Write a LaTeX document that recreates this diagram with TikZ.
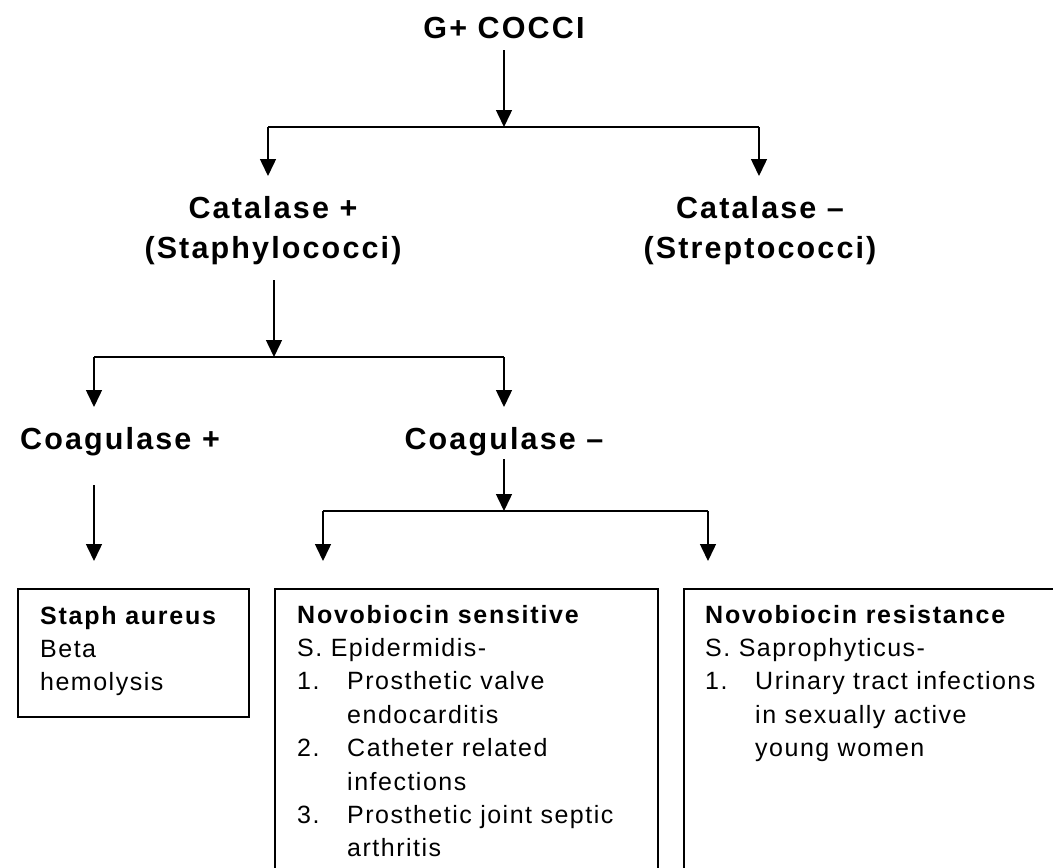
\documentclass[tikz,border=0pt]{standalone}
\usepackage{fontspec}
\setmainfont{Liberation Sans}
\newfontfamily\headfont[LetterSpace=7]{Liberation Sans}
\newfontfamily\bodyfont[LetterSpace=6]{Liberation Sans}
\newfontfamily\titlefont[LetterSpace=7]{Liberation Sans}
\usetikzlibrary{arrows.meta}
\tikzset{
  head/.style={font=\headfont\bfseries\fontsize{30.5}{40}\selectfont, align=center, inner sep=0pt},
  body/.style={font=\bodyfont\fontsize{25}{33.4}\selectfont, align=left, inner sep=0pt, anchor=base west},
  box/.style={draw, line width=1.5pt, inner sep=0pt, anchor=north west},
  link/.style={line width=1.5pt, draw=black},
  arr/.style={link, -{Triangle[width=16pt,length=17pt]}},
}
\newcommand{\itm}[1]{\makebox[50pt][l]{#1}}
\newcommand{\cont}{\hspace*{50pt}}
\newcommand{\boxtitle}[1]{{\titlefont\bfseries #1}}
\begin{document}
\begin{tikzpicture}[x=1pt,y=-1pt]
\useasboundingbox (0,0) rectangle (1053,868);
\clip (0,0) rectangle (1053,868);
% headings (anchor base = baseline of last line)
\node[head, anchor=base] (gc) at (504,38) {G+ COCCI};
\node[head, anchor=base] (catp) at (273,258) {Catalase +\\(Staphylococci)};
\node[head, anchor=base] (catn) at (760,258) {Catalase \textendash\\(Streptococci)};
\node[head, anchor=base] (coagp) at (120,449) {Coagulase +};
\node[head, anchor=base] (coagn) at (504,449) {Coagulase \textendash};
% boxes
\node[box, minimum width=231pt, minimum height=128pt] (b1) at (17,588) {};
\node[box, minimum width=383pt, minimum height=320pt] (b2) at (274,588) {};
\node[box, minimum width=420pt, minimum height=320pt] (b3) at (683,588) {};
\node[body] (t1) at ([xshift=23pt,yshift=-102.8pt]b1.north west)
  {\boxtitle{Staph aureus}\\Beta\\hemolysis};
\node[body] (t2) at ([xshift=23pt,yshift=-268.8pt]b2.north west)
  {\boxtitle{Novobiocin sensitive}\\S. Epidermidis-\\\itm{1.}Prosthetic valve\\\cont endocarditis\\\itm{2.}Catheter related\\\cont infections\\\itm{3.}Prosthetic joint septic\\\cont arthritis};
\node[body] (t3) at ([xshift=22pt,yshift=-168.6pt]b3.north west)
  {\boxtitle{Novobiocin resistance}\\S. Saprophyticus-\\\itm{1.}Urinary tract infections\\\cont in sexually active\\\cont young women};
% junction and end coordinates
\coordinate (s1) at (504,50);
\coordinate (j1) at (504,127);
\coordinate (j1l) at (268,127);
\coordinate (j1r) at (759,127);
\coordinate (e1l) at (268,176);
\coordinate (e1r) at (759,176);
\coordinate (s2) at (274,280);
\coordinate (j2) at (274,357);
\coordinate (j2l) at (94,357);
\coordinate (j2r) at (504,357);
\coordinate (e2l) at (94,407);
\coordinate (e2r) at (504,407);
\coordinate (s3) at (94,485);
\coordinate (e3) at (94,561);
\coordinate (s4) at (504,459);
\coordinate (j4) at (504,511);
\coordinate (j4l) at (323,511);
\coordinate (j4r) at (708,511);
\coordinate (e4l) at (323,561);
\coordinate (e4r) at (708,561);
% connectors
\draw[arr] (s1) -- (j1);
\draw[link] (j1l) -- (j1r);
\draw[arr] (j1l) -- (e1l);
\draw[arr] (j1r) -- (e1r);
\draw[arr] (s2) -- (j2);
\draw[link] (j2l) -- (j2r);
\draw[arr] (j2l) -- (e2l);
\draw[arr] (j2r) -- (e2r);
\draw[arr] (s3) -- (e3);
\draw[arr] (s4) -- (j4);
\draw[link] (j4l) -- (j4r);
\draw[arr] (j4l) -- (e4l);
\draw[arr] (j4r) -- (e4r);
\end{tikzpicture}
\end{document}
